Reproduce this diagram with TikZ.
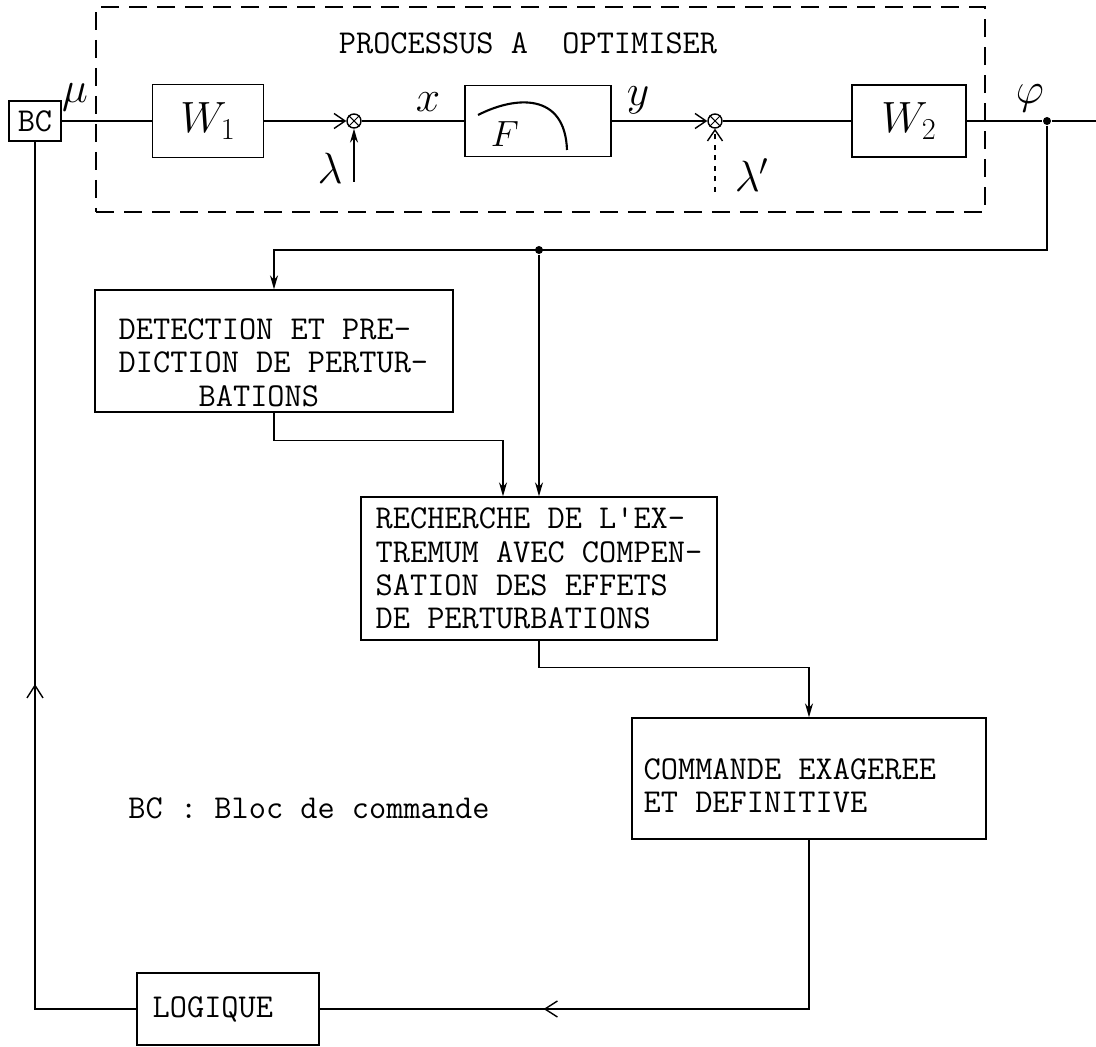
\documentclass[tikz,border=0pt]{standalone}
\usepackage{fontspec}
\usetikzlibrary{arrows.meta,decorations.markings}
\newcommand{\typew}{\ttfamily\fontsize{19pt}{19pt}\selectfont}
\newcommand{\hand}{\fontsize{24pt}{24pt}\selectfont}
\tikzset{
  blk/.style={draw,line width=0.8pt,inner sep=0pt},
  txtblk/.style={draw,line width=0.8pt,align=left,font=\typew},
  txt/.style={font=\typew,align=left,anchor=north west,inner sep=0pt},
  sum/.style={draw,circle,line width=0.8pt,minimum size=0.28cm,inner sep=0pt},
  dotn/.style={circle,fill,inner sep=0pt,minimum size=0.16cm},
  lbl/.style={font=\hand,inner sep=0pt},
  barb/.style={-{Straight Barb[length=0.22cm,width=0.3cm]}},
  midarr/.style={postaction={decorate},decoration={markings,
    mark=at position #1 with {\arrow{Straight Barb[length=0.25cm,width=0.32cm]}}}}
}
\begin{document}
\begin{tikzpicture}[x=0.02cm,y=-0.02cm,line width=0.8pt,
  >={Stealth[length=0.28cm,width=0.16cm]}]
  \useasboundingbox (0,0) rectangle (1096,1047);
  % processus a optimiser
  \node[draw,dash pattern=on 0.36cm off 0.2cm,minimum width=17.78cm,minimum height=4.1cm] (proc) at (540.5,109.5) {};
  \node[font=\typew] (title) at (528,43) {PROCESSUS A\ \ OPTIMISER};
  \node[blk,font=\typew,minimum width=1.04cm,minimum height=0.8cm] (bc) at (35,121) {BC};
  \node[blk,minimum width=2.22cm,minimum height=1.46cm] (w1) at (208,121) {\hand$W_1$};
  \node[sum] (j1) at (354,121) {};
  \node[blk,minimum width=2.92cm,minimum height=1.42cm] (f) at (538,121) {};
  \node[font=\fontsize{22pt}{22pt}\selectfont] (flab) at (505,134) {$F$};
  \node[sum] (j2) at (715,121) {};
  \node[blk,minimum width=2.28cm,minimum height=1.44cm] (w2) at (909,121) {\hand$W_2$};
  \node[dotn] (out) at (1047,121) {};
  \draw[line width=1.2pt] (478,115) .. controls (515,96) and (565,92) .. (567,150);
  \foreach \j in {j1,j2}
    \draw[line width=0.6pt] (\j.north west) -- (\j.south east) (\j.north east) -- (\j.south west);
  % labels
  \node[lbl] (mu) at (75,97) {$\mu$};
  \node[lbl] (lam) at (330,168) {$\lambda$};
  \node[lbl] (xl) at (428,102) {$x$};
  \node[lbl] (yl) at (638,100) {$y$};
  \node[lbl] (lamp) at (752,175) {$\lambda'$};
  \node[lbl] (phil) at (1030,98) {$\varphi$};
  \coordinate (lin) at (354,182);
  \coordinate (linp) at (715,192);
  \coordinate (fin) at (1096,121);
  \foreach \src/\dst in {bc/w1,j1/f,j2/w2,w2/out,out/fin}
    \draw (\src) -- (\dst);
  \foreach \src/\dst in {w1/j1,f/j2}
    \draw[barb] (\src) -- (\dst);
  \draw[->] (lin) -- (j1);
  \draw[barb,dashed] (linp) -- (j2);
  % blocs de recherche
  \node[blk,minimum width=7.16cm,minimum height=2.44cm] (det) at (274,351) {};
  \node[txt] (dett) at (118,318)
    {DETECTION ET PRE-\\DICTION DE PERTUR-\\\hspace*{1.6cm}BATIONS};
  \node[txtblk,minimum width=7.12cm,minimum height=2.86cm] (rech) at (539,568.5)
    {RECHERCHE DE L'EX-\\TREMUM AVEC COMPEN-\\SATION DES EFFETS\\DE PERTURBATIONS};
  \node[blk,minimum width=7.08cm,minimum height=2.42cm] (cmd) at (809,778.5) {};
  \node[txt] (cmdt) at (643,758) {COMMANDE EXAGEREE\\ET DEFINITIVE};
  \node[blk,minimum width=3.64cm,minimum height=1.44cm] (logic) at (228,1009) {};
  \node[txt,anchor=west] (logict) at (152,1009) {LOGIQUE};
  \node[font=\typew] (leg) at (309,808) {BC : Bloc de commande};
  \coordinate (fbk) at (0,250);
  \node[dotn] (j3) at (rech.north |- fbk) {};
  \draw[->] (out) -- ++(0,129) -| (det.north);
  \draw[->] (j3) -- (rech.north);
  \draw[->] (det.south) -- ++(0,28) -| ([xshift=-0.72cm]rech.north);
  \draw[->] (rech.south) -- ++(0,27) -| (cmd.north);
  \draw[midarr=0.66] (cmd.south) |- (logic.east);
  \draw[midarr=0.44] (logic.west) -| (bc.south);
\end{tikzpicture}
\end{document}
